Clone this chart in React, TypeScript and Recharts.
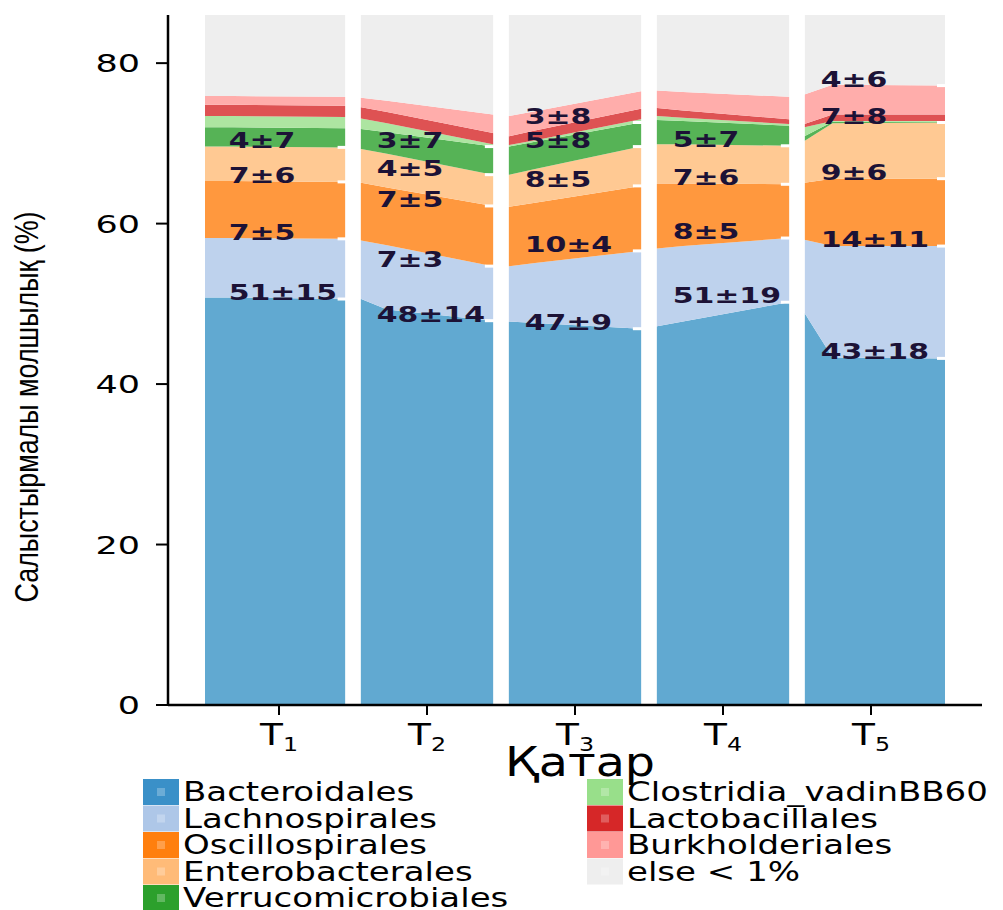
import React from 'react';
import { ComposedChart, Area, XAxis, YAxis, ReferenceArea, Scatter, Legend, Label } from 'recharts';

// ---------- data ----------
const groupTicks = [1, 2, 3, 4, 5];
const groupSubs = ['1', '2', '3', '4', '5'];
// three samples per group: left edge, early point, right edge
const sampleX = [0.5, 0.69, 1.45, 1.555, 1.73, 2.445, 2.555, 2.73, 3.445, 3.555, 3.73, 4.445, 4.55, 4.74, 5.5];

const bacteroidales = [50.8, 50.8, 50.6, 50.6, 49.3, 47.9, 47.8, 47.6, 46.9, 47.2, 47.8, 50.2, 48.9, 43.3, 43.2];
const lachnospirales = [7.4, 7.4, 7.5, 7.3, 8.0, 6.8, 6.9, 7.5, 9.7, 9.7, 9.4, 8.0, 9.1, 13.9, 14.0];
const oscillospirales = [7.1, 7.1, 7.1, 7.2, 7.2, 7.5, 7.4, 7.5, 8.1, 8.1, 7.8, 6.7, 7.1, 8.4, 8.4];
const enterobacterales = [4.3, 4.3, 4.3, 4.2, 4.2, 3.9, 4.0, 4.2, 4.9, 4.9, 4.9, 4.8, 5.2, 6.9, 7.0];
const verrucomicrobiales = [2.4, 2.4, 2.4, 2.5, 2.7, 3.5, 3.5, 3.4, 3.0, 3.0, 2.9, 2.5, 0.6, 0.2, 0.1];
const clostridia = [1.4, 1.4, 1.4, 1.3, 1.1, 0.3, 0.2, 0.2, 0.4, 0.5, 0.4, 0.2, 1.1, 0.1, 0.1];
const lactobacillales = [1.4, 1.4, 1.4, 1.4, 1.4, 1.4, 1.1, 1.2, 1.3, 1.0, 0.9, 0.6, 0.4, 0.8, 0.8];
const burkholderiales = [1.1, 1.1, 1.1, 1.2, 1.4, 2.3, 2.5, 2.4, 2.2, 2.2, 2.3, 2.8, 3.7, 3.7, 3.6];
const elseRest = [24.1, 24.1, 24.1, 24.3, 24.7, 26.4, 26.6, 26.0, 23.5, 23.4, 23.6, 24.2, 23.9, 22.7, 22.8];

const seriesNames = [
  'Bacteroidales', 'Lachnospirales', 'Oscillospirales', 'Enterobacterales', 'Verrucomicrobiales',
  'Clostridia_vadinBB60', 'Lactobacillales', 'Burkholderiales', 'else < 1%',
];
const seriesValues = [
  bacteroidales, lachnospirales, oscillospirales, enterobacterales, verrucomicrobiales,
  clostridia, lactobacillales, burkholderiales, elseRest,
];
const areaColors = ['#61a9d1', '#bed2ed', '#ff983e', '#ffc993', '#56b356', '#ade5a1', '#de5253', '#ffadab', '#eeeeee'];
const legendColors = ['#3a90c8', '#aec7e8', '#ff7f0e', '#ffbb78', '#2ca02c', '#98df8a', '#d62728', '#ff9896', '#eeeeee'];

// mean ± sd labels, per group: which series, and text
const labelSeries = [[0, 1, 2, 3], [0, 1, 2, 3, 4], [0, 1, 2, 3, 4], [0, 1, 2, 3], [0, 1, 2, 3, 7]];
const labelTexts = [
  ['51±15', '7±5', '7±6', '4±7'],
  ['48±14', '7±3', '7±5', '4±5', '3±7'],
  ['47±9', '10±4', '8±5', '5±8', '3±8'],
  ['51±19', '8±5', '7±6', '5±7'],
  ['43±18', '14±11', '9±6', '7±8', '4±6'],
];

const yTicks = [0, 20, 40, 60, 80];

// ---------- derived ----------
const keys = seriesNames.map((_, i) => 's' + i);
const data = sampleX.map((x, i) => {
  const row: any = { x };
  seriesValues.forEach((vals, k) => { row[keys[k]] = vals[i]; });
  return row;
});
const cum = (s: number, p: number) => {
  let t = 0;
  for (let k = 0; k <= s; k++) t += seriesValues[k][p];
  return t;
};
const labelPoints: any[] = [];
const capPoints: any[] = [];
groupTicks.forEach((g, gi) => {
  const rightIdx = gi * 3 + 2;
  labelSeries[gi].forEach((s, j) => {
    const v = cum(s, rightIdx);
    labelPoints.push({ x: g - 0.34, y: v, text: labelTexts[gi][j] });
    capPoints.push({ x: sampleX[rightIdx], y: v });
  });
});

const W = 1003;
const H = 910;
const TEXT_FONT = 'DejaVu Sans, Verdana, sans-serif';

const YTick = (props: any) => {
  const { x, y, payload } = props;
  return (
    <g transform={`translate(${x - 14},${y}) scale(1.4,1)`}>
      <text textAnchor="end" dy="0.36em" fontSize={25} fontFamily={TEXT_FONT} fill="#000">
        {payload.value}
      </text>
    </g>
  );
};

const XTick = (props: any) => {
  const { x, y, payload } = props;
  const idx = groupTicks.indexOf(payload.value);
  return (
    <g transform={`translate(${x},${y}) scale(1.25,1)`}>
      <text textAnchor="middle" y={28} fontSize={30} fontFamily={TEXT_FONT} fill="#000">
        T<tspan fontSize={19} dy={6}>{groupSubs[idx]}</tspan>
      </text>
    </g>
  );
};

const LabelShape = (props: any) => {
  const { cx, cy, payload } = props;
  return (
    <g transform={`translate(${cx},${cy + 1}) scale(1.36,1)`}>
      <text x={0} y={0} fontSize={22} fontWeight="bold" fontFamily={TEXT_FONT} fill="#1c1236">
        {payload.text}
      </text>
    </g>
  );
};

const CapShape = (props: any) => {
  const { cx, cy } = props;
  return <line x1={cx - 8} x2={cx + 2} y1={cy} y2={cy} stroke="#ffffff" strokeWidth={3} />;
};

const LegendBox = () => {
  const col1 = seriesNames.slice(0, 5).map((n, i) => ({ n, i }));
  const col2 = seriesNames.slice(5).map((n, i) => ({ n, i: i + 5 }));
  const rowH = 26.5;
  const top = 779;
  const renderItem = (item: any, r: number, sx: number) => (
    <g key={item.n}>
      <rect x={sx} y={top + r * rowH} width={36} height={26} fill={legendColors[item.i]} />
      <rect x={sx + 14} y={top + r * rowH + 9} width={8} height={8} fill="#ffffff" fillOpacity={0.25} />
      <g transform={`translate(${sx + 40},${top + r * rowH + 22}) scale(1.26,1)`}>
        <text x={0} y={0} fontSize={27} fontFamily={TEXT_FONT} fill="#000">{item.n}</text>
      </g>
    </g>
  );
  return (
    <svg width={W} height={H} style={{ position: 'absolute', left: 0, top: 0, pointerEvents: 'none' }}>
      {col1.map((it, r) => renderItem(it, r, 143))}
      {col2.map((it, r) => renderItem(it, r, 587))}
    </svg>
  );
};

const YTitle = () => (
  <text
    transform="translate(38,407) rotate(-90)"
    textAnchor="middle"
    fontSize={33}
    fontFamily="Liberation Sans, Arial, sans-serif"
    textLength={391}
    lengthAdjust="spacingAndGlyphs"
    fill="#000"
  >
    Салыстырмалы молшылық (%)
  </text>
);

const XTitle = () => (
  <text
    x={580}
    y={776}
    textAnchor="middle"
    fontSize={40}
    fontFamily={TEXT_FONT}
    textLength={150}
    lengthAdjust="spacingAndGlyphs"
    fill="#000"
  >
    Қатар
  </text>
);

export default function App() {
  return (
    <div style={{ position: 'absolute', left: 0, top: 0, width: W, height: H, background: '#ffffff' }}>
      <ComposedChart width={W} height={H} data={data} margin={{ top: 15, right: 21, bottom: 145, left: 0 }}>
        <XAxis
          dataKey="x"
          type="number"
          domain={[0.25, 5.75]}
          ticks={groupTicks}
          allowDataOverflow
          height={60}
          tickSize={10}
          tick={<XTick />}
          axisLine={{ stroke: '#000', strokeWidth: 2.5 }}
          tickLine={{ stroke: '#000', strokeWidth: 2 }}
          interval={0}
        >
          <Label content={<XTitle />} />
        </XAxis>
        <YAxis
          type="number"
          domain={[0, 86]}
          ticks={yTicks}
          allowDataOverflow
          width={168}
          tickSize={12}
          tick={<YTick />}
          axisLine={{ stroke: '#000', strokeWidth: 2.5 }}
          tickLine={{ stroke: '#000', strokeWidth: 2 }}
        >
          <Label content={<YTitle />} />
        </YAxis>
        {keys.map((k, i) => (
          <Area
            key={k}
            dataKey={k}
            name={seriesNames[i]}
            stackId="stack"
            type="linear"
            stroke="none"
            fill={areaColors[i]}
            fillOpacity={1}
            dot={false}
            activeDot={false}
            isAnimationActive={false}
          />
        ))}
        {groupTicks.slice(0, 4).map((g) => (
          <ReferenceArea
            key={'gap' + g}
            x1={g + 0.447}
            x2={g + 0.553}
            y1={0}
            y2={86}
            fill="#ffffff"
            fillOpacity={1}
            stroke="none"
            ifOverflow="hidden"
            zIndex={450}
          />
        ))}
        <Scatter data={capPoints} dataKey="y" shape={<CapShape />} isAnimationActive={false} legendType="none" />
        <Scatter data={labelPoints} dataKey="y" shape={<LabelShape />} isAnimationActive={false} legendType="none" />
        <Legend
          layout="horizontal"
          verticalAlign="middle"
          align="center"
          content={<LegendBox />}
          wrapperStyle={{ position: 'absolute', left: 0, top: 0, width: W, height: H, pointerEvents: 'none' }}
        />
      </ComposedChart>
    </div>
  );
}
